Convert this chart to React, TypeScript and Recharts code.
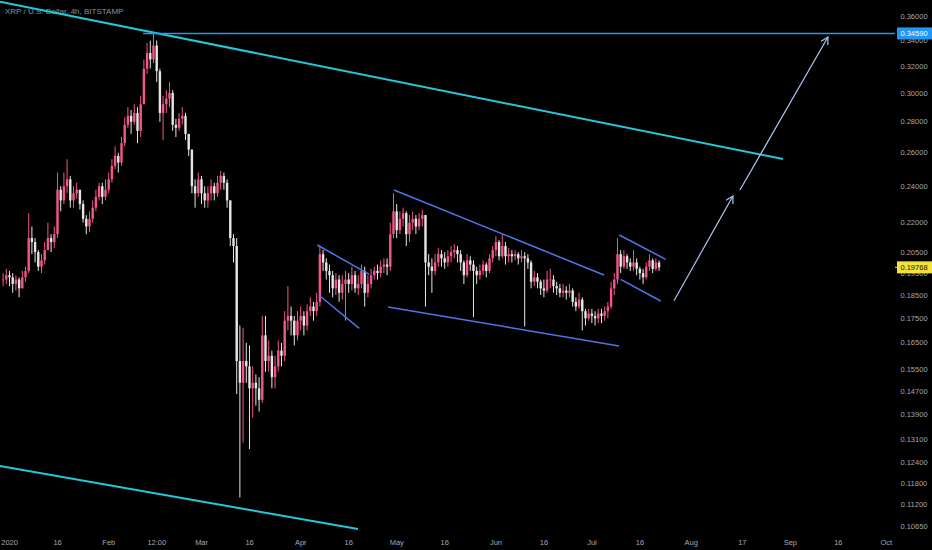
import React from 'react';
import { ComposedChart, Bar, XAxis, YAxis, ReferenceLine } from 'recharts';

// ---- data (daily candles, day 0 = 2020-01-01) ----
const startDay = -2;
const closes = [
  0.192, 0.194, 0.193, 0.19, 0.192, 0.188, 0.193, 0.196, 0.212, 0.21,
  0.205, 0.198, 0.201, 0.206, 0.212, 0.21, 0.214, 0.238, 0.232, 0.24,
  0.244, 0.232, 0.236, 0.238, 0.23, 0.222, 0.218, 0.222, 0.228, 0.234,
  0.24, 0.234, 0.238, 0.244, 0.252, 0.258, 0.254, 0.266, 0.278, 0.284,
  0.28, 0.286, 0.274, 0.292, 0.318, 0.33, 0.325, 0.336, 0.316, 0.286,
  0.292, 0.296, 0.3, 0.278, 0.276, 0.282, 0.284, 0.272, 0.262, 0.24,
  0.236, 0.244, 0.236, 0.232, 0.236, 0.24, 0.236, 0.242, 0.246, 0.242,
  0.232, 0.212, 0.208, 0.158, 0.15, 0.158, 0.156, 0.148, 0.15, 0.148,
  0.144, 0.168, 0.158, 0.16, 0.152, 0.156, 0.162, 0.16, 0.174, 0.176,
  0.174, 0.168, 0.174, 0.176, 0.172, 0.178, 0.18, 0.178, 0.182, 0.204,
  0.2, 0.196, 0.194, 0.188, 0.192, 0.186, 0.19, 0.192, 0.19, 0.194,
  0.188, 0.19, 0.196, 0.186, 0.19, 0.194, 0.196, 0.195, 0.198, 0.199,
  0.198, 0.214, 0.226, 0.216, 0.222, 0.225, 0.214, 0.22, 0.222, 0.218,
  0.222, 0.224, 0.2, 0.198, 0.196, 0.2, 0.204, 0.202, 0.2, 0.203,
  0.205, 0.206, 0.204, 0.2, 0.194, 0.201, 0.199, 0.196, 0.194, 0.196,
  0.199, 0.196, 0.202, 0.206, 0.21, 0.203, 0.208, 0.203, 0.204, 0.203,
  0.204, 0.202, 0.203, 0.202, 0.2, 0.191, 0.193, 0.191, 0.188, 0.187,
  0.192, 0.192, 0.189, 0.188, 0.186, 0.187, 0.186, 0.187, 0.182, 0.18,
  0.183, 0.178, 0.175, 0.177, 0.176, 0.175, 0.177, 0.176, 0.178, 0.18,
  0.188, 0.192, 0.204, 0.198, 0.203, 0.2, 0.198, 0.2, 0.197, 0.195,
  0.193, 0.198, 0.201, 0.197, 0.2, 0.19768,
];
const highs = [
  0.195, 0.197, 0.196, 0.195, 0.194, 0.193, 0.196, 0.198, 0.225, 0.218,
  0.212, 0.206, 0.204, 0.21, 0.22, 0.214, 0.218, 0.248, 0.24, 0.248,
  0.256, 0.246, 0.24, 0.242, 0.238, 0.232, 0.224, 0.226, 0.232, 0.238,
  0.242, 0.242, 0.244, 0.248, 0.256, 0.264, 0.26, 0.27, 0.283, 0.29,
  0.288, 0.292, 0.29, 0.298, 0.325, 0.338, 0.34, 0.346, 0.34, 0.318,
  0.298, 0.302, 0.308, 0.302, 0.282, 0.286, 0.29, 0.286, 0.272, 0.262,
  0.244, 0.248, 0.246, 0.24, 0.24, 0.244, 0.242, 0.246, 0.249, 0.248,
  0.244, 0.232, 0.214, 0.212, 0.172, 0.171, 0.165, 0.164, 0.156, 0.153,
  0.152, 0.176, 0.176, 0.166, 0.162, 0.16, 0.166, 0.165, 0.178, 0.189,
  0.18, 0.176, 0.178, 0.18, 0.178, 0.181, 0.184, 0.182, 0.186, 0.208,
  0.206, 0.202, 0.199, 0.196, 0.195, 0.194, 0.194, 0.196, 0.195, 0.198,
  0.196, 0.194, 0.199, 0.198, 0.194, 0.197, 0.198, 0.199, 0.201, 0.202,
  0.202, 0.22, 0.236, 0.23, 0.226, 0.228, 0.226, 0.224, 0.226, 0.224,
  0.225, 0.227, 0.224, 0.204, 0.202, 0.204, 0.207, 0.206, 0.205, 0.206,
  0.208, 0.209, 0.208, 0.206, 0.201, 0.204, 0.203, 0.201, 0.198, 0.199,
  0.201, 0.2, 0.204, 0.208, 0.213, 0.211, 0.214, 0.21, 0.207, 0.206,
  0.206, 0.205, 0.206, 0.205, 0.204, 0.201, 0.196, 0.195, 0.192, 0.192,
  0.196, 0.197, 0.194, 0.191, 0.19, 0.19, 0.189, 0.19, 0.188, 0.184,
  0.186, 0.184, 0.179, 0.179, 0.179, 0.178, 0.179, 0.179, 0.18, 0.182,
  0.191, 0.195, 0.212, 0.206, 0.206, 0.204, 0.202, 0.206, 0.202, 0.198,
  0.197, 0.2, 0.204, 0.202, 0.202, 0.201,
];
const lows = [
  0.189, 0.19, 0.189, 0.186, 0.187, 0.184, 0.188, 0.191, 0.195, 0.204,
  0.2, 0.196, 0.195, 0.199, 0.206, 0.205, 0.207, 0.212, 0.226, 0.23,
  0.236, 0.228, 0.228, 0.233, 0.227, 0.22, 0.214, 0.215, 0.22, 0.226,
  0.232, 0.23, 0.232, 0.236, 0.242, 0.25, 0.248, 0.252, 0.264, 0.276,
  0.272, 0.278, 0.266, 0.27, 0.292, 0.314, 0.318, 0.322, 0.308, 0.28,
  0.268, 0.286, 0.29, 0.274, 0.27, 0.274, 0.278, 0.268, 0.258, 0.236,
  0.228, 0.234, 0.23, 0.228, 0.228, 0.232, 0.232, 0.234, 0.238, 0.238,
  0.228, 0.208, 0.2, 0.146, 0.114, 0.13, 0.15, 0.128, 0.138, 0.142,
  0.14, 0.143, 0.154, 0.154, 0.148, 0.148, 0.154, 0.156, 0.158, 0.17,
  0.168, 0.164, 0.166, 0.17, 0.168, 0.17, 0.176, 0.174, 0.176, 0.18,
  0.196, 0.192, 0.186, 0.184, 0.185, 0.182, 0.183, 0.174, 0.186, 0.187,
  0.186, 0.185, 0.188, 0.18, 0.184, 0.188, 0.192, 0.192, 0.193, 0.195,
  0.194, 0.196, 0.212, 0.212, 0.214, 0.218, 0.208, 0.21, 0.216, 0.214,
  0.216, 0.218, 0.18, 0.194, 0.186, 0.194, 0.198, 0.198, 0.197, 0.198,
  0.2, 0.202, 0.2, 0.196, 0.19, 0.193, 0.196, 0.1755, 0.19, 0.192,
  0.194, 0.193, 0.195, 0.2, 0.203, 0.201, 0.202, 0.199, 0.2, 0.2,
  0.201, 0.199, 0.2, 0.1716, 0.197, 0.188, 0.189, 0.188, 0.185, 0.184,
  0.186, 0.188, 0.186, 0.185, 0.184, 0.184, 0.183, 0.184, 0.18, 0.178,
  0.179, 0.17, 0.172, 0.174, 0.173, 0.172, 0.173, 0.173, 0.174, 0.175,
  0.179, 0.185, 0.19, 0.195, 0.197, 0.197, 0.196, 0.196, 0.194, 0.192,
  0.19, 0.192, 0.196, 0.195, 0.196, 0.196,
];

const xTickDays = [0, 15, 31, 46, 60, 75, 91, 106, 121, 136, 152, 167, 182, 197, 213, 229, 244, 259, 274];
const xTickLabels = ['2020', '16', 'Feb', '12:00', 'Mar', '16', 'Apr', '16', 'May', '16', 'Jun', '16', 'Jul', '16', 'Aug', '17', 'Sep', '16', 'Oct'];

const yTicks = [0.36, 0.34, 0.32, 0.3, 0.28, 0.26, 0.24, 0.22, 0.205, 0.195, 0.185, 0.175, 0.165, 0.155, 0.147, 0.139, 0.131, 0.124, 0.118, 0.112, 0.1065];
const levelPrice = 0.3459;
const lastPrice = 0.19768;

// trend lines in (day, price)
const cyanLines = [
  [[-3, 0.37315], [241.69, 0.25615]],
  [[-3, 0.12292], [108.875, 0.10572]],
];
const blueLines = [
  [[96.16, 0.20853], [112.41, 0.19441]],
  [[97.0, 0.18459], [109.28, 0.17086]],
  [[120.13, 0.23785], [185.75, 0.19409]],
  [[118.25, 0.17979], [190.44, 0.16378]],
  [[190.53, 0.21358], [205.03, 0.20152]],
  [[190.97, 0.19211], [203.47, 0.18239]],
];
const levelStartDay = 41.7;
const arrows = [
  [[207.63, 0.18252], [226.06, 0.23446]],
  [[228.25, 0.23785], [255.75, 0.34294]],
];

const X_DOMAIN: [number, number] = [-3, 276.7];
const Y_DOMAIN: [number, number] = [0.104968, 0.37468];

const candles = closes.map((c, i) => {
  const o = i === 0 ? c : closes[i - 1];
  const h = Math.max(highs[i], o, c);
  const l = Math.min(lows[i], o, c);
  return { day: startDay + i, open: o, close: c, high: h, low: l, range: [l, h] };
});

const UP = '#f5558f';
const DOWN = '#e6e6e6';
const FONT = '"Liberation Sans", Arial, sans-serif';
const LABEL = '#a4a7b0';

const Candle = (props: any) => {
  const { x, y, width, height, payload } = props;
  if (!payload || x == null || y == null) return null;
  const top = Math.min(y, y + height);
  const h = Math.abs(height);
  const lh = Math.log(payload.high);
  const ll = Math.log(payload.low);
  const span = lh - ll || 1;
  const py = (p: number) => top + ((lh - Math.log(p)) / span) * h;
  const cx = x + width / 2;
  const up = payload.close >= payload.open;
  const color = up ? UP : DOWN;
  const bTop = py(Math.max(payload.open, payload.close));
  const bBot = py(Math.min(payload.open, payload.close));
  return (
    <g>
      <line x1={cx} x2={cx} y1={top} y2={top + h} stroke={color} strokeWidth={1} />
      <rect x={cx - 1.2} y={bTop} width={2.4} height={Math.max(bBot - bTop, 0.8)} fill={color} />
    </g>
  );
};

const XTick = (props: any) => {
  const { x, y, payload } = props;
  const idx = xTickDays.indexOf(payload.value);
  return (
    <text x={x} y={y + 13} textAnchor="middle" fill={LABEL} fontSize={7.5} fontFamily={FONT}>
      {idx >= 0 ? xTickLabels[idx] : ''}
    </text>
  );
};

const YTick = (props: any) => {
  const { x, y, payload } = props;
  const v = payload.value;
  const cx = x + 19;
  if (v === levelPrice) {
    return (
      <g>
        <rect x={x + 2} y={y - 6} width={35} height={12} fill="#2196f3" />
        <text x={cx} y={y + 2.6} textAnchor="middle" fill="#ffffff" fontSize={7.5} fontFamily={FONT}>{v.toFixed(5)}</text>
      </g>
    );
  }
  if (v === lastPrice) {
    return (
      <g>
        <rect x={x + 2} y={y - 6} width={35} height={12} fill="#f4e23c" />
        <line x1={x} x2={x + 3} y1={y} y2={y} stroke="#f4e23c" strokeWidth={1} />
        <text x={cx} y={y + 2.6} textAnchor="middle" fill="#111111" fontSize={7.5} fontFamily={FONT}>{v.toFixed(5)}</text>
      </g>
    );
  }
  return (
    <text x={cx} y={y + 2.6} textAnchor="middle" fill={LABEL} fontSize={7.5} fontFamily={FONT}>{v.toFixed(5)}</text>
  );
};

const ArrowShape = (props: any) => {
  const { x1, y1, x2, y2 } = props;
  if ([x1, y1, x2, y2].some((v) => v == null || isNaN(v))) return null;
  const ang = Math.atan2(y2 - y1, x2 - x1);
  const L = 8;
  const a = 0.5;
  const p1 = [x2 - L * Math.cos(ang - a), y2 - L * Math.sin(ang - a)];
  const p2 = [x2 - L * Math.cos(ang + a), y2 - L * Math.sin(ang + a)];
  const col = '#a9c8f2';
  return (
    <g>
      <line x1={x1} y1={y1} x2={x2} y2={y2} stroke={col} strokeWidth={1.2} />
      <polyline points={`${p1[0]},${p1[1]} ${x2},${y2} ${p2[0]},${p2[1]}`} fill="none" stroke={col} strokeWidth={1.2} />
    </g>
  );
};

const seg = (s: number[][]) => [{ x: s[0][0], y: s[0][1] }, { x: s[1][0], y: s[1][1] }] as any;

export default function App() {
  return (
    <div style={{ position: 'fixed', left: 0, top: 0, width: 932, height: 550, background: '#000', overflow: 'hidden' }}>
      <div style={{ position: 'absolute', left: 5, top: 7, color: '#8d9099', fontSize: 8, fontFamily: FONT, lineHeight: '10px', whiteSpace: 'nowrap' }}>
        XRP / U.S. Dollar, 4h, BITSTAMP
      </div>
      <ComposedChart width={932} height={550} data={candles} margin={{ top: 0, right: 0, bottom: 0, left: 0 }}>
        <XAxis
          dataKey="day"
          type="number"
          domain={X_DOMAIN}
          allowDataOverflow
          ticks={xTickDays}
          interval={0}
          tick={<XTick />}
          tickLine={false}
          axisLine={false}
          tickSize={0}
          tickMargin={0}
          height={18}
        />
        <YAxis
          orientation="right"
          scale="log"
          type="number"
          domain={Y_DOMAIN}
          allowDataOverflow
          ticks={[...yTicks, levelPrice, lastPrice]}
          interval={0}
          tick={<YTick />}
          tickLine={false}
          axisLine={false}
          tickSize={0}
          tickMargin={0}
          width={37}
        />
        <Bar dataKey="range" shape={<Candle />} isAnimationActive={false} barSize={3} />
        {cyanLines.map((s, i) => (
          <ReferenceLine key={'c' + i} segment={seg(s)} stroke="#22c9d6" strokeWidth={2} ifOverflow="visible" />
        ))}
        <ReferenceLine segment={seg([[levelStartDay, levelPrice], [X_DOMAIN[1], levelPrice]])} stroke="#2196f3" strokeWidth={1.5} ifOverflow="visible" />
        {blueLines.map((s, i) => (
          <ReferenceLine key={'b' + i} segment={seg(s)} stroke="#4f76e8" strokeWidth={1.5} ifOverflow="visible" />
        ))}
        {arrows.map((s, i) => (
          <ReferenceLine key={'a' + i} segment={seg(s)} stroke="#a9c8f2" strokeWidth={1.2} ifOverflow="visible" shape={ArrowShape} />
        ))}
      </ComposedChart>
    </div>
  );
}
